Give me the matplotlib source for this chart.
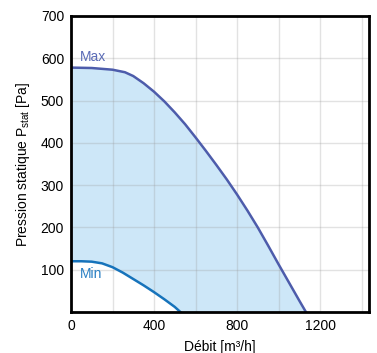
import matplotlib
matplotlib.use('Agg')
import matplotlib.pyplot as plt
import numpy as np

plt.rcParams['font.family'] = ['Liberation Sans', 'DejaVu Sans']
plt.rcParams['mathtext.fontset'] = 'custom'
plt.rcParams['mathtext.rm'] = 'Liberation Sans'
plt.rcParams['mathtext.it'] = 'Liberation Sans'

# courbes (debit m3/h, pression Pa)
max_q = [0, 100, 200, 260, 300, 350, 400, 450, 500, 550, 600, 650, 700, 750, 800, 850, 900, 950, 1000, 1050, 1100, 1132]
max_p = [578, 577, 573, 567, 558, 541, 521, 498, 472, 444, 413, 381, 348, 314, 278, 240, 200, 157, 113, 70, 27, 0]
min_q = [0, 50, 100, 150, 200, 250, 300, 350, 400, 450, 500, 527]
min_p = [120, 120, 119, 115, 106, 93, 78, 63, 47, 30, 12, 0]

xticks = [0, 400, 800, 1200]
yticks = [100, 200, 300, 400, 500, 600, 700]

c_max = '#4d5cab'
c_min = '#1673bb'
c_fill = '#cde7f8'

fig = plt.figure(figsize=(3.77, 3.53), dpi=100)
ax = fig.add_axes([71/377, 1-312/353, 298/377, 296/353])

# zone de fonctionnement entre Min et Max
poly_q = max_q + min_q[::-1]
poly_p = max_p + min_p[::-1]
ax.fill(poly_q, poly_p, color=c_fill, lw=0, zorder=1)

ax.plot(max_q, max_p, color=c_max, lw=1.8, zorder=3)
ax.plot(min_q, min_p, color=c_min, lw=1.8, zorder=3)

ax.text(45, 602, 'Max', color='#5a6bb6', fontsize=10, va='center', ha='left', zorder=4)
ax.text(45, 91, 'Min', color='#2a80c4', fontsize=10, va='center', ha='left', zorder=4)

ax.set_xlim(0, 1436)
ax.set_ylim(0, 700)
ax.set_xticks(xticks)
ax.set_xticks(np.arange(200, 1401, 400), minor=True)
ax.set_yticks(yticks)
ax.grid(True, which='both', color='#9a9a9a', alpha=0.28, lw=1, zorder=2)
ax.set_axisbelow(False)
ax.tick_params(which='both', length=0, labelsize=10, pad=5)

for s in ax.spines.values():
    s.set_linewidth(2)
    s.set_color('black')
    s.set_zorder(5)

ax.set_xlabel('Débit [m³/h]', fontsize=10, labelpad=5)
ax.set_ylabel(r'Pression statique P$_{\mathrm{stat}}$ [Pa]', fontsize=10, labelpad=6)

fig.savefig('out.png', dpi=100)
